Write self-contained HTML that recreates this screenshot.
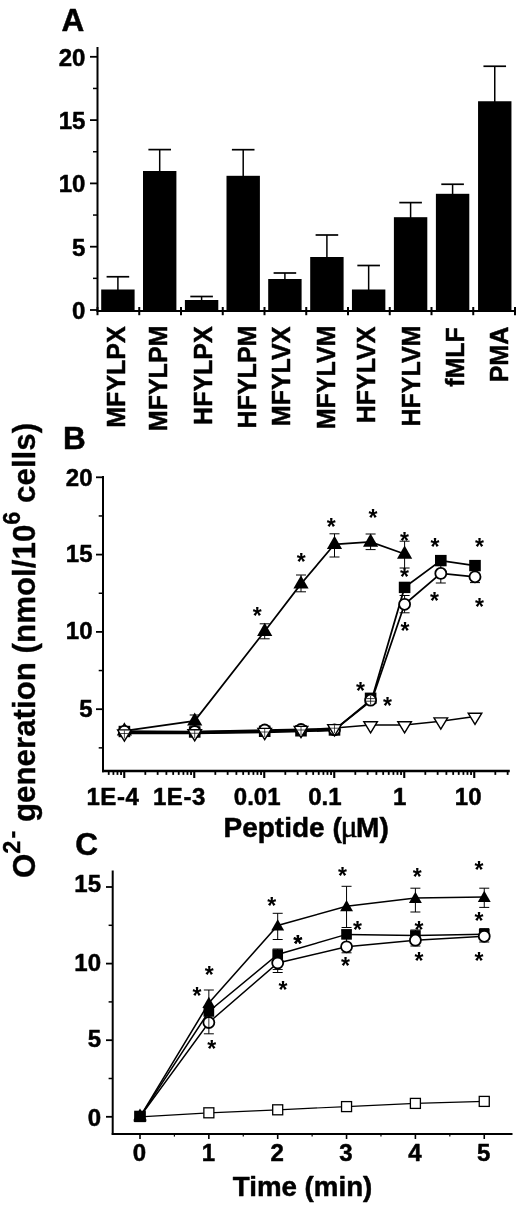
<!DOCTYPE html>
<html><head><meta charset="utf-8"><title>Figure</title>
<style>html,body{margin:0;padding:0;background:#fff}svg{display:block}</style></head>
<body><svg width="520" height="1205" viewBox="0 0 520 1205">
<defs><filter id="bl" x="0" y="0" width="520" height="1205" filterUnits="userSpaceOnUse"><feGaussianBlur stdDeviation="0.45"/></filter></defs>
<rect width="520" height="1205" fill="#fff"/>
<g filter="url(#bl)">
<text x="61.50" y="30.50" font-size="31.5" text-anchor="start" font-family="Liberation Sans, sans-serif" font-weight="bold" stroke="#000" stroke-width="0.5" stroke-linejoin="round" >A</text>
<line x1="97.50" y1="47.00" x2="97.50" y2="311.50" stroke="#000" stroke-width="2" />
<line x1="96.50" y1="310.90" x2="516.00" y2="310.90" stroke="#000" stroke-width="2" />
<line x1="90.00" y1="310.00" x2="97.50" y2="310.00" stroke="#000" stroke-width="1.8" />
<text x="85.40" y="319.00" font-size="24" text-anchor="end" font-family="Liberation Sans, sans-serif" font-weight="bold" stroke="#000" stroke-width="0.5" stroke-linejoin="round" >0</text>
<line x1="90.00" y1="246.70" x2="97.50" y2="246.70" stroke="#000" stroke-width="1.8" />
<text x="85.40" y="255.70" font-size="24" text-anchor="end" font-family="Liberation Sans, sans-serif" font-weight="bold" stroke="#000" stroke-width="0.5" stroke-linejoin="round" >5</text>
<line x1="90.00" y1="183.40" x2="97.50" y2="183.40" stroke="#000" stroke-width="1.8" />
<text x="85.40" y="192.40" font-size="24" text-anchor="end" font-family="Liberation Sans, sans-serif" font-weight="bold" stroke="#000" stroke-width="0.5" stroke-linejoin="round" >10</text>
<line x1="90.00" y1="120.10" x2="97.50" y2="120.10" stroke="#000" stroke-width="1.8" />
<text x="85.40" y="129.10" font-size="24" text-anchor="end" font-family="Liberation Sans, sans-serif" font-weight="bold" stroke="#000" stroke-width="0.5" stroke-linejoin="round" >15</text>
<line x1="90.00" y1="56.80" x2="97.50" y2="56.80" stroke="#000" stroke-width="1.8" />
<text x="85.40" y="65.80" font-size="24" text-anchor="end" font-family="Liberation Sans, sans-serif" font-weight="bold" stroke="#000" stroke-width="0.5" stroke-linejoin="round" >20</text>
<line x1="93.00" y1="278.35" x2="97.50" y2="278.35" stroke="#000" stroke-width="1.5" />
<line x1="93.00" y1="215.05" x2="97.50" y2="215.05" stroke="#000" stroke-width="1.5" />
<line x1="93.00" y1="151.75" x2="97.50" y2="151.75" stroke="#000" stroke-width="1.5" />
<line x1="93.00" y1="88.45" x2="97.50" y2="88.45" stroke="#000" stroke-width="1.5" />
<line x1="97.50" y1="307.00" x2="97.50" y2="315.20" stroke="#000" stroke-width="2" />
<line x1="139.25" y1="307.00" x2="139.25" y2="315.20" stroke="#000" stroke-width="2" />
<line x1="181.00" y1="307.00" x2="181.00" y2="315.20" stroke="#000" stroke-width="2" />
<line x1="222.75" y1="307.00" x2="222.75" y2="315.20" stroke="#000" stroke-width="2" />
<line x1="264.50" y1="307.00" x2="264.50" y2="315.20" stroke="#000" stroke-width="2" />
<line x1="306.25" y1="307.00" x2="306.25" y2="315.20" stroke="#000" stroke-width="2" />
<line x1="348.00" y1="307.00" x2="348.00" y2="315.20" stroke="#000" stroke-width="2" />
<line x1="389.75" y1="307.00" x2="389.75" y2="315.20" stroke="#000" stroke-width="2" />
<line x1="431.50" y1="307.00" x2="431.50" y2="315.20" stroke="#000" stroke-width="2" />
<line x1="473.25" y1="307.00" x2="473.25" y2="315.20" stroke="#000" stroke-width="2" />
<line x1="515.00" y1="307.00" x2="515.00" y2="315.20" stroke="#000" stroke-width="2" />
<rect x="101.20" y="289.50" width="33.4" height="21.50" fill="#000"/>
<line x1="117.90" y1="276.75" x2="117.90" y2="290.50" stroke="#000" stroke-width="1.5" />
<line x1="106.60" y1="276.75" x2="129.20" y2="276.75" stroke="#000" stroke-width="1.7" />
<rect x="143.00" y="171.00" width="33.4" height="140.00" fill="#000"/>
<line x1="159.70" y1="149.60" x2="159.70" y2="172.00" stroke="#000" stroke-width="1.5" />
<line x1="148.40" y1="149.60" x2="171.00" y2="149.60" stroke="#000" stroke-width="1.7" />
<rect x="184.90" y="300.00" width="33.4" height="11.00" fill="#000"/>
<line x1="201.60" y1="296.50" x2="201.60" y2="301.00" stroke="#000" stroke-width="1.5" />
<line x1="190.30" y1="296.50" x2="212.90" y2="296.50" stroke="#000" stroke-width="1.7" />
<rect x="226.50" y="175.80" width="33.4" height="135.20" fill="#000"/>
<line x1="243.20" y1="149.70" x2="243.20" y2="176.80" stroke="#000" stroke-width="1.5" />
<line x1="231.90" y1="149.70" x2="254.50" y2="149.70" stroke="#000" stroke-width="1.7" />
<rect x="268.20" y="279.00" width="33.4" height="32.00" fill="#000"/>
<line x1="284.90" y1="273.00" x2="284.90" y2="280.00" stroke="#000" stroke-width="1.5" />
<line x1="273.60" y1="273.00" x2="296.20" y2="273.00" stroke="#000" stroke-width="1.7" />
<rect x="310.20" y="257.00" width="33.4" height="54.00" fill="#000"/>
<line x1="326.90" y1="235.00" x2="326.90" y2="258.00" stroke="#000" stroke-width="1.5" />
<line x1="315.60" y1="235.00" x2="338.20" y2="235.00" stroke="#000" stroke-width="1.7" />
<rect x="351.95" y="289.50" width="33.4" height="21.50" fill="#000"/>
<line x1="368.65" y1="265.50" x2="368.65" y2="290.50" stroke="#000" stroke-width="1.5" />
<line x1="357.35" y1="265.50" x2="379.95" y2="265.50" stroke="#000" stroke-width="1.7" />
<rect x="393.90" y="217.20" width="33.4" height="93.80" fill="#000"/>
<line x1="410.60" y1="202.60" x2="410.60" y2="218.20" stroke="#000" stroke-width="1.5" />
<line x1="399.30" y1="202.60" x2="421.90" y2="202.60" stroke="#000" stroke-width="1.7" />
<rect x="435.90" y="193.80" width="33.4" height="117.20" fill="#000"/>
<line x1="452.60" y1="184.25" x2="452.60" y2="194.80" stroke="#000" stroke-width="1.5" />
<line x1="441.30" y1="184.25" x2="463.90" y2="184.25" stroke="#000" stroke-width="1.7" />
<rect x="478.05" y="101.25" width="33.4" height="209.75" fill="#000"/>
<line x1="494.75" y1="66.25" x2="494.75" y2="102.25" stroke="#000" stroke-width="1.5" />
<line x1="483.45" y1="66.25" x2="506.05" y2="66.25" stroke="#000" stroke-width="1.7" />
<text transform="translate(125.36,326.30) rotate(-90)" font-size="25" text-anchor="end" font-family="Liberation Sans, sans-serif" font-weight="bold" stroke="#000" stroke-width="0.5" stroke-linejoin="round">MFYLPX</text>
<text transform="translate(167.21,325.60) rotate(-90)" font-size="25" text-anchor="end" font-family="Liberation Sans, sans-serif" font-weight="bold" stroke="#000" stroke-width="0.5" stroke-linejoin="round">MFYLPM</text>
<text transform="translate(212.01,326.30) rotate(-90)" font-size="25" text-anchor="end" font-family="Liberation Sans, sans-serif" font-weight="bold" stroke="#000" stroke-width="0.5" stroke-linejoin="round">HFYLPX</text>
<text transform="translate(256.01,325.60) rotate(-90)" font-size="25" text-anchor="end" font-family="Liberation Sans, sans-serif" font-weight="bold" stroke="#000" stroke-width="0.5" stroke-linejoin="round">HFYLPM</text>
<text transform="translate(289.51,326.60) rotate(-90)" font-size="25" text-anchor="end" font-family="Liberation Sans, sans-serif" font-weight="bold" stroke="#000" stroke-width="0.5" stroke-linejoin="round">MFYLVX</text>
<text transform="translate(335.36,325.60) rotate(-90)" font-size="25" text-anchor="end" font-family="Liberation Sans, sans-serif" font-weight="bold" stroke="#000" stroke-width="0.5" stroke-linejoin="round">MFYLVM</text>
<text transform="translate(374.71,326.60) rotate(-90)" font-size="25" text-anchor="end" font-family="Liberation Sans, sans-serif" font-weight="bold" stroke="#000" stroke-width="0.5" stroke-linejoin="round">HFYLVX</text>
<text transform="translate(420.41,325.60) rotate(-90)" font-size="25" text-anchor="end" font-family="Liberation Sans, sans-serif" font-weight="bold" stroke="#000" stroke-width="0.5" stroke-linejoin="round">HFYLVM</text>
<text transform="translate(463.81,327.10) rotate(-90)" font-size="25" text-anchor="end" font-family="Liberation Sans, sans-serif" font-weight="bold" stroke="#000" stroke-width="0.5" stroke-linejoin="round">fMLF</text>
<text transform="translate(507.61,326.80) rotate(-90)" font-size="25" text-anchor="end" font-family="Liberation Sans, sans-serif" font-weight="bold" stroke="#000" stroke-width="0.5" stroke-linejoin="round">PMA</text>
<text transform="translate(35,878) rotate(-90)" font-size="31.3" font-family="Liberation Sans, sans-serif" font-weight="bold" stroke="#000" stroke-width="0.3">O<tspan font-size="23.5" dy="-15">2<tspan dx="2">-</tspan></tspan><tspan dy="15"> generation (nmol/10</tspan><tspan font-size="23.5" dy="-15">6</tspan><tspan dy="15"> cells)</tspan></text>
<text x="63.00" y="449.00" font-size="31.5" text-anchor="start" font-family="Liberation Sans, sans-serif" font-weight="bold" stroke="#000" stroke-width="0.5" stroke-linejoin="round" >B</text>
<line x1="103.00" y1="476.00" x2="103.00" y2="772.20" stroke="#000" stroke-width="2" />
<line x1="102.00" y1="771.00" x2="509.80" y2="771.00" stroke="#000" stroke-width="2.3" />
<line x1="96.00" y1="709.20" x2="103.00" y2="709.20" stroke="#000" stroke-width="1.8" />
<text x="92.50" y="716.80" font-size="24" text-anchor="end" font-family="Liberation Sans, sans-serif" font-weight="bold" stroke="#000" stroke-width="0.5" stroke-linejoin="round" >5</text>
<line x1="96.00" y1="631.90" x2="103.00" y2="631.90" stroke="#000" stroke-width="1.8" />
<text x="92.50" y="639.00" font-size="24" text-anchor="end" font-family="Liberation Sans, sans-serif" font-weight="bold" stroke="#000" stroke-width="0.5" stroke-linejoin="round" >10</text>
<line x1="96.00" y1="554.60" x2="103.00" y2="554.60" stroke="#000" stroke-width="1.8" />
<text x="92.50" y="561.80" font-size="24" text-anchor="end" font-family="Liberation Sans, sans-serif" font-weight="bold" stroke="#000" stroke-width="0.5" stroke-linejoin="round" >15</text>
<line x1="96.00" y1="477.30" x2="103.00" y2="477.30" stroke="#000" stroke-width="1.8" />
<text x="92.50" y="486.10" font-size="24" text-anchor="end" font-family="Liberation Sans, sans-serif" font-weight="bold" stroke="#000" stroke-width="0.5" stroke-linejoin="round" >20</text>
<line x1="98.70" y1="747.85" x2="103.00" y2="747.85" stroke="#000" stroke-width="1.5" />
<line x1="98.70" y1="670.55" x2="103.00" y2="670.55" stroke="#000" stroke-width="1.5" />
<line x1="98.70" y1="593.25" x2="103.00" y2="593.25" stroke="#000" stroke-width="1.5" />
<line x1="98.70" y1="515.95" x2="103.00" y2="515.95" stroke="#000" stroke-width="1.5" />
<line x1="108.72" y1="771.00" x2="108.72" y2="774.90" stroke="#000" stroke-width="1.8" />
<line x1="113.41" y1="771.00" x2="113.41" y2="774.90" stroke="#000" stroke-width="1.8" />
<line x1="117.47" y1="771.00" x2="117.47" y2="774.90" stroke="#000" stroke-width="1.8" />
<line x1="121.05" y1="771.00" x2="121.05" y2="774.90" stroke="#000" stroke-width="1.8" />
<line x1="124.25" y1="771.00" x2="124.25" y2="778.00" stroke="#000" stroke-width="2.1" />
<line x1="145.32" y1="771.00" x2="145.32" y2="774.90" stroke="#000" stroke-width="1.8" />
<line x1="157.65" y1="771.00" x2="157.65" y2="774.90" stroke="#000" stroke-width="1.8" />
<line x1="166.39" y1="771.00" x2="166.39" y2="774.90" stroke="#000" stroke-width="1.8" />
<line x1="173.18" y1="771.00" x2="173.18" y2="774.90" stroke="#000" stroke-width="1.8" />
<line x1="178.72" y1="771.00" x2="178.72" y2="774.90" stroke="#000" stroke-width="1.8" />
<line x1="183.41" y1="771.00" x2="183.41" y2="774.90" stroke="#000" stroke-width="1.8" />
<line x1="187.47" y1="771.00" x2="187.47" y2="774.90" stroke="#000" stroke-width="1.8" />
<line x1="191.05" y1="771.00" x2="191.05" y2="774.90" stroke="#000" stroke-width="1.8" />
<line x1="194.25" y1="771.00" x2="194.25" y2="778.00" stroke="#000" stroke-width="2.1" />
<line x1="215.32" y1="771.00" x2="215.32" y2="774.90" stroke="#000" stroke-width="1.8" />
<line x1="227.65" y1="771.00" x2="227.65" y2="774.90" stroke="#000" stroke-width="1.8" />
<line x1="236.39" y1="771.00" x2="236.39" y2="774.90" stroke="#000" stroke-width="1.8" />
<line x1="243.18" y1="771.00" x2="243.18" y2="774.90" stroke="#000" stroke-width="1.8" />
<line x1="248.72" y1="771.00" x2="248.72" y2="774.90" stroke="#000" stroke-width="1.8" />
<line x1="253.41" y1="771.00" x2="253.41" y2="774.90" stroke="#000" stroke-width="1.8" />
<line x1="257.47" y1="771.00" x2="257.47" y2="774.90" stroke="#000" stroke-width="1.8" />
<line x1="261.05" y1="771.00" x2="261.05" y2="774.90" stroke="#000" stroke-width="1.8" />
<line x1="264.25" y1="771.00" x2="264.25" y2="778.00" stroke="#000" stroke-width="2.1" />
<line x1="285.32" y1="771.00" x2="285.32" y2="774.90" stroke="#000" stroke-width="1.8" />
<line x1="297.65" y1="771.00" x2="297.65" y2="774.90" stroke="#000" stroke-width="1.8" />
<line x1="306.39" y1="771.00" x2="306.39" y2="774.90" stroke="#000" stroke-width="1.8" />
<line x1="313.18" y1="771.00" x2="313.18" y2="774.90" stroke="#000" stroke-width="1.8" />
<line x1="318.72" y1="771.00" x2="318.72" y2="774.90" stroke="#000" stroke-width="1.8" />
<line x1="323.41" y1="771.00" x2="323.41" y2="774.90" stroke="#000" stroke-width="1.8" />
<line x1="327.47" y1="771.00" x2="327.47" y2="774.90" stroke="#000" stroke-width="1.8" />
<line x1="331.05" y1="771.00" x2="331.05" y2="774.90" stroke="#000" stroke-width="1.8" />
<line x1="334.25" y1="771.00" x2="334.25" y2="778.00" stroke="#000" stroke-width="2.1" />
<line x1="355.32" y1="771.00" x2="355.32" y2="774.90" stroke="#000" stroke-width="1.8" />
<line x1="367.65" y1="771.00" x2="367.65" y2="774.90" stroke="#000" stroke-width="1.8" />
<line x1="376.39" y1="771.00" x2="376.39" y2="774.90" stroke="#000" stroke-width="1.8" />
<line x1="383.18" y1="771.00" x2="383.18" y2="774.90" stroke="#000" stroke-width="1.8" />
<line x1="388.72" y1="771.00" x2="388.72" y2="774.90" stroke="#000" stroke-width="1.8" />
<line x1="393.41" y1="771.00" x2="393.41" y2="774.90" stroke="#000" stroke-width="1.8" />
<line x1="397.47" y1="771.00" x2="397.47" y2="774.90" stroke="#000" stroke-width="1.8" />
<line x1="401.05" y1="771.00" x2="401.05" y2="774.90" stroke="#000" stroke-width="1.8" />
<line x1="404.25" y1="771.00" x2="404.25" y2="778.00" stroke="#000" stroke-width="2.1" />
<line x1="425.32" y1="771.00" x2="425.32" y2="774.90" stroke="#000" stroke-width="1.8" />
<line x1="437.65" y1="771.00" x2="437.65" y2="774.90" stroke="#000" stroke-width="1.8" />
<line x1="446.39" y1="771.00" x2="446.39" y2="774.90" stroke="#000" stroke-width="1.8" />
<line x1="453.18" y1="771.00" x2="453.18" y2="774.90" stroke="#000" stroke-width="1.8" />
<line x1="458.72" y1="771.00" x2="458.72" y2="774.90" stroke="#000" stroke-width="1.8" />
<line x1="463.41" y1="771.00" x2="463.41" y2="774.90" stroke="#000" stroke-width="1.8" />
<line x1="467.47" y1="771.00" x2="467.47" y2="774.90" stroke="#000" stroke-width="1.8" />
<line x1="471.05" y1="771.00" x2="471.05" y2="774.90" stroke="#000" stroke-width="1.8" />
<line x1="474.25" y1="771.00" x2="474.25" y2="778.00" stroke="#000" stroke-width="2.1" />
<line x1="495.32" y1="771.00" x2="495.32" y2="774.90" stroke="#000" stroke-width="1.8" />
<line x1="507.65" y1="771.00" x2="507.65" y2="774.90" stroke="#000" stroke-width="1.8" />
<text x="139.50" y="805.00" font-size="24" text-anchor="end" font-family="Liberation Sans, sans-serif" font-weight="bold" stroke="#000" stroke-width="0.5" stroke-linejoin="round" letter-spacing="0.6">1E-4</text>
<text x="206.00" y="805.00" font-size="24" text-anchor="end" font-family="Liberation Sans, sans-serif" font-weight="bold" stroke="#000" stroke-width="0.5" stroke-linejoin="round" letter-spacing="0.6">1E-3</text>
<text x="280.50" y="805.00" font-size="24" text-anchor="end" font-family="Liberation Sans, sans-serif" font-weight="bold" stroke="#000" stroke-width="0.5" stroke-linejoin="round" >0.01</text>
<text x="341.50" y="805.00" font-size="24" text-anchor="end" font-family="Liberation Sans, sans-serif" font-weight="bold" stroke="#000" stroke-width="0.5" stroke-linejoin="round" >0.1</text>
<text x="406.30" y="805.00" font-size="24" text-anchor="end" font-family="Liberation Sans, sans-serif" font-weight="bold" stroke="#000" stroke-width="0.5" stroke-linejoin="round" >1</text>
<text x="481.50" y="805.00" font-size="24" text-anchor="end" font-family="Liberation Sans, sans-serif" font-weight="bold" stroke="#000" stroke-width="0.5" stroke-linejoin="round" >10</text>
<text x="223.5" y="836.8" font-size="28" font-family="Liberation Sans, sans-serif" font-weight="bold" stroke="#000" stroke-width="0.5" stroke-linejoin="round">Peptide (<tspan font-family="Liberation Serif, serif" font-weight="normal" stroke-width="0.55" font-size="32" dx="-1.2">μ</tspan><tspan dx="-1.6">M)</tspan></text>
<polyline fill="none" stroke="#000" stroke-width="1.75" points="124.40,730.80 194.70,720.90 264.70,631.30 301.00,583.90 334.50,544.30 370.60,542.00 404.60,554.00"/>
<polyline fill="none" stroke="#000" stroke-width="1.75" points="124.40,731.50 194.70,732.00 264.70,731.30 301.00,730.80 334.50,730.00 371.80,699.30 404.60,587.40 440.80,560.60 475.00,565.60"/>
<polyline fill="none" stroke="#000" stroke-width="1.75" points="124.40,731.30 194.70,731.50 264.70,730.00 301.00,729.50 334.50,729.80 371.80,700.20 404.60,604.30 440.80,573.40 475.00,576.80"/>
<polyline fill="none" stroke="#000" stroke-width="1.5" points="124.40,733.30 194.70,733.10 264.70,731.80 301.00,729.80 334.50,728.00 370.60,725.10 404.60,725.10 440.80,721.30 475.00,716.60"/>
<polyline fill="none" stroke="#000" stroke-width="3.3" points="124.40,732.50 194.70,732.70 264.70,731.60 301.00,730.70 334.50,729.70"/>
<line x1="194.70" y1="715.00" x2="194.70" y2="726.00" stroke="#000" stroke-width="1.0" />
<line x1="189.70" y1="715.00" x2="199.70" y2="715.00" stroke="#000" stroke-width="1.0" />
<line x1="189.70" y1="726.00" x2="199.70" y2="726.00" stroke="#000" stroke-width="1.0" />
<line x1="264.70" y1="623.80" x2="264.70" y2="638.80" stroke="#000" stroke-width="1.0" />
<line x1="259.70" y1="623.80" x2="269.70" y2="623.80" stroke="#000" stroke-width="1.0" />
<line x1="259.70" y1="638.80" x2="269.70" y2="638.80" stroke="#000" stroke-width="1.0" />
<line x1="301.00" y1="575.00" x2="301.00" y2="591.80" stroke="#000" stroke-width="1.0" />
<line x1="296.00" y1="575.00" x2="306.00" y2="575.00" stroke="#000" stroke-width="1.0" />
<line x1="296.00" y1="591.80" x2="306.00" y2="591.80" stroke="#000" stroke-width="1.0" />
<line x1="334.50" y1="533.80" x2="334.50" y2="557.00" stroke="#000" stroke-width="1.0" />
<line x1="329.50" y1="533.80" x2="339.50" y2="533.80" stroke="#000" stroke-width="1.0" />
<line x1="329.50" y1="557.00" x2="339.50" y2="557.00" stroke="#000" stroke-width="1.0" />
<line x1="370.60" y1="534.00" x2="370.60" y2="549.60" stroke="#000" stroke-width="1.0" />
<line x1="365.60" y1="534.00" x2="375.60" y2="534.00" stroke="#000" stroke-width="1.0" />
<line x1="365.60" y1="549.60" x2="375.60" y2="549.60" stroke="#000" stroke-width="1.0" />
<line x1="404.60" y1="541.20" x2="404.60" y2="568.00" stroke="#000" stroke-width="1.0" />
<line x1="399.60" y1="541.20" x2="409.60" y2="541.20" stroke="#000" stroke-width="1.0" />
<line x1="399.60" y1="568.00" x2="409.60" y2="568.00" stroke="#000" stroke-width="1.0" />
<line x1="404.60" y1="595.50" x2="404.60" y2="612.80" stroke="#000" stroke-width="1.0" />
<line x1="399.60" y1="595.50" x2="409.60" y2="595.50" stroke="#000" stroke-width="1.0" />
<line x1="399.60" y1="612.80" x2="409.60" y2="612.80" stroke="#000" stroke-width="1.0" />
<line x1="440.80" y1="565.00" x2="440.80" y2="583.00" stroke="#000" stroke-width="1.0" />
<line x1="435.80" y1="565.00" x2="445.80" y2="565.00" stroke="#000" stroke-width="1.0" />
<line x1="435.80" y1="583.00" x2="445.80" y2="583.00" stroke="#000" stroke-width="1.0" />
<line x1="475.00" y1="570.00" x2="475.00" y2="582.60" stroke="#000" stroke-width="1.0" />
<line x1="470.00" y1="570.00" x2="480.00" y2="570.00" stroke="#000" stroke-width="1.0" />
<line x1="470.00" y1="582.60" x2="480.00" y2="582.60" stroke="#000" stroke-width="1.0" />
<polygon points="124.40,722.30 116.80,735.50 132.00,735.50" fill="#000"/>
<polygon points="194.70,712.40 187.10,725.60 202.30,725.60" fill="#000"/>
<polygon points="264.70,622.80 257.10,636.00 272.30,636.00" fill="#000"/>
<polygon points="301.00,575.40 293.40,588.60 308.60,588.60" fill="#000"/>
<polygon points="334.50,535.80 326.90,549.00 342.10,549.00" fill="#000"/>
<polygon points="370.60,533.50 363.00,546.70 378.20,546.70" fill="#000"/>
<polygon points="404.60,545.50 397.00,558.70 412.20,558.70" fill="#000"/>
<rect x="118.60" y="725.80" width="11.60" height="11.40" fill="#000"/>
<rect x="188.90" y="726.30" width="11.60" height="11.40" fill="#000"/>
<rect x="258.90" y="725.60" width="11.60" height="11.40" fill="#000"/>
<rect x="295.20" y="725.10" width="11.60" height="11.40" fill="#000"/>
<rect x="328.70" y="724.30" width="11.60" height="11.40" fill="#000"/>
<rect x="364.80" y="692.60" width="11.60" height="11.40" fill="#000"/>
<rect x="398.80" y="581.70" width="11.60" height="11.40" fill="#000"/>
<rect x="435.00" y="554.90" width="11.60" height="11.40" fill="#000"/>
<rect x="469.20" y="559.90" width="11.60" height="11.40" fill="#000"/>
<circle cx="124.40" cy="731.30" r="5.5" fill="#fff" stroke="#000" stroke-width="1.8"/>
<circle cx="194.70" cy="731.50" r="5.5" fill="#fff" stroke="#000" stroke-width="1.8"/>
<circle cx="264.70" cy="730.00" r="5.5" fill="#fff" stroke="#000" stroke-width="1.8"/>
<circle cx="301.00" cy="729.50" r="5.5" fill="#fff" stroke="#000" stroke-width="1.8"/>
<circle cx="334.50" cy="729.80" r="5.5" fill="#fff" stroke="#000" stroke-width="1.8"/>
<circle cx="370.60" cy="700.20" r="5.5" fill="#fff" stroke="#000" stroke-width="1.8"/>
<circle cx="404.60" cy="604.30" r="5.5" fill="#fff" stroke="#000" stroke-width="1.8"/>
<circle cx="440.80" cy="573.40" r="5.5" fill="#fff" stroke="#000" stroke-width="1.8"/>
<circle cx="475.00" cy="576.80" r="5.5" fill="#fff" stroke="#000" stroke-width="1.8"/>
<polygon points="124.40,741.10 117.60,729.90 131.20,729.90" fill="#fff" stroke="#000" stroke-width="1.4"/>
<polygon points="194.70,740.90 187.90,729.70 201.50,729.70" fill="#fff" stroke="#000" stroke-width="1.4"/>
<polygon points="264.70,739.60 257.90,728.40 271.50,728.40" fill="#fff" stroke="#000" stroke-width="1.4"/>
<polygon points="301.00,737.60 294.20,726.40 307.80,726.40" fill="#fff" stroke="#000" stroke-width="1.4"/>
<polygon points="334.50,735.80 327.70,724.60 341.30,724.60" fill="#fff" stroke="#000" stroke-width="1.4"/>
<polygon points="370.60,732.90 363.80,721.70 377.40,721.70" fill="#fff" stroke="#000" stroke-width="1.4"/>
<polygon points="404.60,732.90 397.80,721.70 411.40,721.70" fill="#fff" stroke="#000" stroke-width="1.4"/>
<polygon points="440.80,729.10 434.00,717.90 447.60,717.90" fill="#fff" stroke="#000" stroke-width="1.4"/>
<polygon points="475.00,724.40 468.20,713.20 481.80,713.20" fill="#fff" stroke="#000" stroke-width="1.4"/>
<line x1="124.40" y1="730.50" x2="124.40" y2="738.50" stroke="#000" stroke-width="0.7" />
<line x1="120.40" y1="733.50" x2="128.40" y2="733.50" stroke="#000" stroke-width="0.7" />
<line x1="194.70" y1="730.30" x2="194.70" y2="738.30" stroke="#000" stroke-width="0.7" />
<line x1="190.70" y1="733.30" x2="198.70" y2="733.30" stroke="#000" stroke-width="0.7" />
<line x1="264.70" y1="729.00" x2="264.70" y2="737.00" stroke="#000" stroke-width="0.7" />
<line x1="260.70" y1="732.00" x2="268.70" y2="732.00" stroke="#000" stroke-width="0.7" />
<line x1="301.00" y1="727.00" x2="301.00" y2="735.00" stroke="#000" stroke-width="0.7" />
<line x1="297.00" y1="730.00" x2="305.00" y2="730.00" stroke="#000" stroke-width="0.7" />
<line x1="334.50" y1="725.20" x2="334.50" y2="733.20" stroke="#000" stroke-width="0.7" />
<line x1="330.50" y1="728.20" x2="338.50" y2="728.20" stroke="#000" stroke-width="0.7" />
<line x1="366.30" y1="698.60" x2="374.90" y2="698.60" stroke="#000" stroke-width="0.8" />
<line x1="366.00" y1="701.20" x2="375.20" y2="701.20" stroke="#000" stroke-width="0.8" />
<line x1="370.60" y1="696.00" x2="370.60" y2="704.50" stroke="#000" stroke-width="0.8" />
<text x="257.30" y="624.28" font-size="23" text-anchor="middle" font-family="Liberation Sans, sans-serif" font-weight="bold">*</text>
<text x="301.30" y="570.48" font-size="23" text-anchor="middle" font-family="Liberation Sans, sans-serif" font-weight="bold">*</text>
<text x="331.30" y="534.68" font-size="23" text-anchor="middle" font-family="Liberation Sans, sans-serif" font-weight="bold">*</text>
<text x="372.90" y="525.68" font-size="23" text-anchor="middle" font-family="Liberation Sans, sans-serif" font-weight="bold">*</text>
<text x="404.50" y="549.38" font-size="23" text-anchor="middle" font-family="Liberation Sans, sans-serif" font-weight="bold">*</text>
<text x="435.00" y="555.28" font-size="23" text-anchor="middle" font-family="Liberation Sans, sans-serif" font-weight="bold">*</text>
<text x="479.50" y="555.08" font-size="23" text-anchor="middle" font-family="Liberation Sans, sans-serif" font-weight="bold">*</text>
<text x="404.50" y="585.48" font-size="23" text-anchor="middle" font-family="Liberation Sans, sans-serif" font-weight="bold">*</text>
<text x="434.50" y="609.28" font-size="23" text-anchor="middle" font-family="Liberation Sans, sans-serif" font-weight="bold">*</text>
<text x="479.50" y="615.38" font-size="23" text-anchor="middle" font-family="Liberation Sans, sans-serif" font-weight="bold">*</text>
<text x="405.00" y="638.88" font-size="23" text-anchor="middle" font-family="Liberation Sans, sans-serif" font-weight="bold">*</text>
<text x="360.50" y="699.48" font-size="23" text-anchor="middle" font-family="Liberation Sans, sans-serif" font-weight="bold">*</text>
<text x="387.40" y="713.68" font-size="23" text-anchor="middle" font-family="Liberation Sans, sans-serif" font-weight="bold">*</text>
<text x="75.30" y="855.00" font-size="31.5" text-anchor="start" font-family="Liberation Sans, sans-serif" font-weight="bold" stroke="#000" stroke-width="0.5" stroke-linejoin="round" >C</text>
<line x1="112.70" y1="870.50" x2="112.70" y2="1134.70" stroke="#000" stroke-width="2" />
<line x1="111.70" y1="1133.90" x2="512.50" y2="1133.90" stroke="#000" stroke-width="2" />
<line x1="106.00" y1="1116.80" x2="112.70" y2="1116.80" stroke="#000" stroke-width="1.8" />
<text x="101.00" y="1126.00" font-size="24" text-anchor="end" font-family="Liberation Sans, sans-serif" font-weight="bold" stroke="#000" stroke-width="0.5" stroke-linejoin="round" >0</text>
<line x1="106.00" y1="1040.20" x2="112.70" y2="1040.20" stroke="#000" stroke-width="1.8" />
<text x="101.00" y="1047.30" font-size="24" text-anchor="end" font-family="Liberation Sans, sans-serif" font-weight="bold" stroke="#000" stroke-width="0.5" stroke-linejoin="round" >5</text>
<line x1="106.00" y1="963.60" x2="112.70" y2="963.60" stroke="#000" stroke-width="1.8" />
<text x="101.00" y="970.50" font-size="24" text-anchor="end" font-family="Liberation Sans, sans-serif" font-weight="bold" stroke="#000" stroke-width="0.5" stroke-linejoin="round" >10</text>
<line x1="106.00" y1="887.00" x2="112.70" y2="887.00" stroke="#000" stroke-width="1.8" />
<text x="101.00" y="892.20" font-size="24" text-anchor="end" font-family="Liberation Sans, sans-serif" font-weight="bold" stroke="#000" stroke-width="0.5" stroke-linejoin="round" >15</text>
<line x1="108.60" y1="1078.50" x2="112.70" y2="1078.50" stroke="#000" stroke-width="1.5" />
<line x1="108.60" y1="1001.90" x2="112.70" y2="1001.90" stroke="#000" stroke-width="1.5" />
<line x1="108.60" y1="925.30" x2="112.70" y2="925.30" stroke="#000" stroke-width="1.5" />
<line x1="140.00" y1="1133.50" x2="140.00" y2="1139.00" stroke="#000" stroke-width="1.6" />
<text x="139.50" y="1161.30" font-size="24" text-anchor="middle" font-family="Liberation Sans, sans-serif" font-weight="bold" stroke="#000" stroke-width="0.5" stroke-linejoin="round" >0</text>
<line x1="208.85" y1="1133.50" x2="208.85" y2="1139.00" stroke="#000" stroke-width="1.6" />
<text x="208.35" y="1161.30" font-size="24" text-anchor="middle" font-family="Liberation Sans, sans-serif" font-weight="bold" stroke="#000" stroke-width="0.5" stroke-linejoin="round" >1</text>
<line x1="277.70" y1="1133.50" x2="277.70" y2="1139.00" stroke="#000" stroke-width="1.6" />
<text x="277.20" y="1161.30" font-size="24" text-anchor="middle" font-family="Liberation Sans, sans-serif" font-weight="bold" stroke="#000" stroke-width="0.5" stroke-linejoin="round" >2</text>
<line x1="346.55" y1="1133.50" x2="346.55" y2="1139.00" stroke="#000" stroke-width="1.6" />
<text x="346.05" y="1161.30" font-size="24" text-anchor="middle" font-family="Liberation Sans, sans-serif" font-weight="bold" stroke="#000" stroke-width="0.5" stroke-linejoin="round" >3</text>
<line x1="415.40" y1="1133.50" x2="415.40" y2="1139.00" stroke="#000" stroke-width="1.6" />
<text x="414.90" y="1161.30" font-size="24" text-anchor="middle" font-family="Liberation Sans, sans-serif" font-weight="bold" stroke="#000" stroke-width="0.5" stroke-linejoin="round" >4</text>
<line x1="484.25" y1="1133.50" x2="484.25" y2="1139.00" stroke="#000" stroke-width="1.6" />
<text x="483.75" y="1161.30" font-size="24" text-anchor="middle" font-family="Liberation Sans, sans-serif" font-weight="bold" stroke="#000" stroke-width="0.5" stroke-linejoin="round" >5</text>
<line x1="174.43" y1="1133.50" x2="174.43" y2="1136.60" stroke="#000" stroke-width="1.2" />
<line x1="243.27" y1="1133.50" x2="243.27" y2="1136.60" stroke="#000" stroke-width="1.2" />
<line x1="312.12" y1="1133.50" x2="312.12" y2="1136.60" stroke="#000" stroke-width="1.2" />
<line x1="380.97" y1="1133.50" x2="380.97" y2="1136.60" stroke="#000" stroke-width="1.2" />
<line x1="449.82" y1="1133.50" x2="449.82" y2="1136.60" stroke="#000" stroke-width="1.2" />
<text x="232.80" y="1196.00" font-size="27.7" text-anchor="start" font-family="Liberation Sans, sans-serif" font-weight="bold" stroke="#000" stroke-width="0.5" stroke-linejoin="round" >Time (min)</text>
<polyline fill="none" stroke="#000" stroke-width="1.5" points="140.00,1116.80 208.85,1003.00 277.70,925.50 346.55,906.30 415.40,898.00 484.25,897.00"/>
<polyline fill="none" stroke="#000" stroke-width="1.5" points="140.00,1116.80 208.85,1011.50 277.70,954.50 346.55,934.40 415.40,935.50 484.25,934.20"/>
<polyline fill="none" stroke="#000" stroke-width="1.5" points="140.00,1116.80 208.85,1022.50 277.70,963.00 346.55,946.80 415.40,940.20 484.25,936.30"/>
<polyline fill="none" stroke="#000" stroke-width="1.2" points="140.00,1116.80 208.85,1112.80 277.70,1109.80 346.55,1106.60 415.40,1103.40 484.25,1101.40"/>
<line x1="208.85" y1="990.00" x2="208.85" y2="1033.80" stroke="#000" stroke-width="1.0" />
<line x1="203.85" y1="990.00" x2="213.85" y2="990.00" stroke="#000" stroke-width="1.0" />
<line x1="203.85" y1="1033.80" x2="213.85" y2="1033.80" stroke="#000" stroke-width="1.0" />
<line x1="277.70" y1="913.30" x2="277.70" y2="939.50" stroke="#000" stroke-width="1.0" />
<line x1="272.70" y1="913.30" x2="282.70" y2="913.30" stroke="#000" stroke-width="1.0" />
<line x1="272.70" y1="939.50" x2="282.70" y2="939.50" stroke="#000" stroke-width="1.0" />
<line x1="277.70" y1="949.00" x2="277.70" y2="972.50" stroke="#000" stroke-width="1.0" />
<line x1="272.70" y1="949.00" x2="282.70" y2="949.00" stroke="#000" stroke-width="1.0" />
<line x1="272.70" y1="972.50" x2="282.70" y2="972.50" stroke="#000" stroke-width="1.0" />
<line x1="272.70" y1="969.50" x2="282.70" y2="969.50" stroke="#000" stroke-width="0.9" />
<line x1="346.55" y1="886.30" x2="346.55" y2="927.50" stroke="#000" stroke-width="1.0" />
<line x1="341.55" y1="886.30" x2="351.55" y2="886.30" stroke="#000" stroke-width="1.0" />
<line x1="341.55" y1="927.50" x2="351.55" y2="927.50" stroke="#000" stroke-width="1.0" />
<line x1="346.55" y1="930.00" x2="346.55" y2="952.80" stroke="#000" stroke-width="1.0" />
<line x1="341.55" y1="930.00" x2="351.55" y2="930.00" stroke="#000" stroke-width="1.0" />
<line x1="341.55" y1="952.80" x2="351.55" y2="952.80" stroke="#000" stroke-width="1.0" />
<line x1="415.40" y1="888.20" x2="415.40" y2="912.00" stroke="#000" stroke-width="1.0" />
<line x1="410.40" y1="888.20" x2="420.40" y2="888.20" stroke="#000" stroke-width="1.0" />
<line x1="410.40" y1="912.00" x2="420.40" y2="912.00" stroke="#000" stroke-width="1.0" />
<line x1="484.25" y1="888.20" x2="484.25" y2="907.40" stroke="#000" stroke-width="1.0" />
<line x1="479.25" y1="888.20" x2="489.25" y2="888.20" stroke="#000" stroke-width="1.0" />
<line x1="479.25" y1="907.40" x2="489.25" y2="907.40" stroke="#000" stroke-width="1.0" />
<line x1="415.40" y1="930.00" x2="415.40" y2="946.00" stroke="#000" stroke-width="1.0" />
<line x1="410.40" y1="930.00" x2="420.40" y2="930.00" stroke="#000" stroke-width="1.0" />
<line x1="410.40" y1="946.00" x2="420.40" y2="946.00" stroke="#000" stroke-width="1.0" />
<line x1="484.25" y1="928.60" x2="484.25" y2="942.00" stroke="#000" stroke-width="1.0" />
<line x1="479.25" y1="928.60" x2="489.25" y2="928.60" stroke="#000" stroke-width="1.0" />
<line x1="479.25" y1="942.00" x2="489.25" y2="942.00" stroke="#000" stroke-width="1.0" />
<polygon points="140.00,1110.50 133.54,1121.72 146.46,1121.72" fill="#000"/>
<polygon points="208.85,996.70 202.39,1007.92 215.31,1007.92" fill="#000"/>
<polygon points="277.70,919.20 271.24,930.42 284.16,930.42" fill="#000"/>
<polygon points="346.55,900.00 340.09,911.22 353.01,911.22" fill="#000"/>
<polygon points="415.40,891.70 408.94,902.92 421.86,902.92" fill="#000"/>
<polygon points="484.25,890.70 477.79,901.92 490.71,901.92" fill="#000"/>
<rect x="134.66" y="1111.56" width="10.67" height="10.49" fill="#000"/>
<rect x="203.51" y="1006.26" width="10.67" height="10.49" fill="#000"/>
<rect x="272.36" y="949.26" width="10.67" height="10.49" fill="#000"/>
<rect x="341.21" y="929.16" width="10.67" height="10.49" fill="#000"/>
<rect x="410.06" y="930.26" width="10.67" height="10.49" fill="#000"/>
<rect x="478.91" y="928.96" width="10.67" height="10.49" fill="#000"/>
<circle cx="208.85" cy="1022.50" r="5.5" fill="#fff" stroke="#000" stroke-width="1.8"/>
<circle cx="277.70" cy="963.00" r="5.5" fill="#fff" stroke="#000" stroke-width="1.8"/>
<circle cx="346.55" cy="946.80" r="5.5" fill="#fff" stroke="#000" stroke-width="1.8"/>
<circle cx="415.40" cy="940.20" r="5.5" fill="#fff" stroke="#000" stroke-width="1.8"/>
<circle cx="484.25" cy="936.30" r="5.5" fill="#fff" stroke="#000" stroke-width="1.8"/>
<rect x="203.85" y="1107.80" width="10" height="10" fill="#fff" stroke="#000" stroke-width="1.3"/>
<rect x="272.70" y="1104.80" width="10" height="10" fill="#fff" stroke="#000" stroke-width="1.3"/>
<rect x="341.55" y="1101.60" width="10" height="10" fill="#fff" stroke="#000" stroke-width="1.3"/>
<rect x="410.40" y="1098.40" width="10" height="10" fill="#fff" stroke="#000" stroke-width="1.3"/>
<rect x="479.25" y="1096.40" width="10" height="10" fill="#fff" stroke="#000" stroke-width="1.3"/>
<rect x="134.20" y="1110.70" width="11.60" height="11.40" fill="#000"/>
<polygon points="140.00,1108.60 133.16,1120.48 146.84,1120.48" fill="#000"/>
<line x1="208.85" y1="1017.00" x2="208.85" y2="1028.00" stroke="#000" stroke-width="0.8" />
<text x="209.30" y="982.98" font-size="23" text-anchor="middle" font-family="Liberation Sans, sans-serif" font-weight="bold">*</text>
<text x="197.00" y="1004.18" font-size="23" text-anchor="middle" font-family="Liberation Sans, sans-serif" font-weight="bold">*</text>
<text x="211.80" y="1057.18" font-size="23" text-anchor="middle" font-family="Liberation Sans, sans-serif" font-weight="bold">*</text>
<text x="283.00" y="997.88" font-size="23" text-anchor="middle" font-family="Liberation Sans, sans-serif" font-weight="bold">*</text>
<text x="271.80" y="914.18" font-size="23" text-anchor="middle" font-family="Liberation Sans, sans-serif" font-weight="bold">*</text>
<text x="342.50" y="884.18" font-size="23" text-anchor="middle" font-family="Liberation Sans, sans-serif" font-weight="bold">*</text>
<text x="298.00" y="952.18" font-size="23" text-anchor="middle" font-family="Liberation Sans, sans-serif" font-weight="bold">*</text>
<text x="357.50" y="937.98" font-size="23" text-anchor="middle" font-family="Liberation Sans, sans-serif" font-weight="bold">*</text>
<text x="345.50" y="973.68" font-size="23" text-anchor="middle" font-family="Liberation Sans, sans-serif" font-weight="bold">*</text>
<text x="297.70" y="951.68" font-size="23" text-anchor="middle" font-family="Liberation Sans, sans-serif" font-weight="bold">*</text>
<text x="417.20" y="884.58" font-size="23" text-anchor="middle" font-family="Liberation Sans, sans-serif" font-weight="bold">*</text>
<text x="479.00" y="878.38" font-size="23" text-anchor="middle" font-family="Liberation Sans, sans-serif" font-weight="bold">*</text>
<text x="419.00" y="937.88" font-size="23" text-anchor="middle" font-family="Liberation Sans, sans-serif" font-weight="bold">*</text>
<text x="479.00" y="928.98" font-size="23" text-anchor="middle" font-family="Liberation Sans, sans-serif" font-weight="bold">*</text>
<text x="419.00" y="968.58" font-size="23" text-anchor="middle" font-family="Liberation Sans, sans-serif" font-weight="bold">*</text>
<text x="479.00" y="968.58" font-size="23" text-anchor="middle" font-family="Liberation Sans, sans-serif" font-weight="bold">*</text>
</g></svg></body></html>
